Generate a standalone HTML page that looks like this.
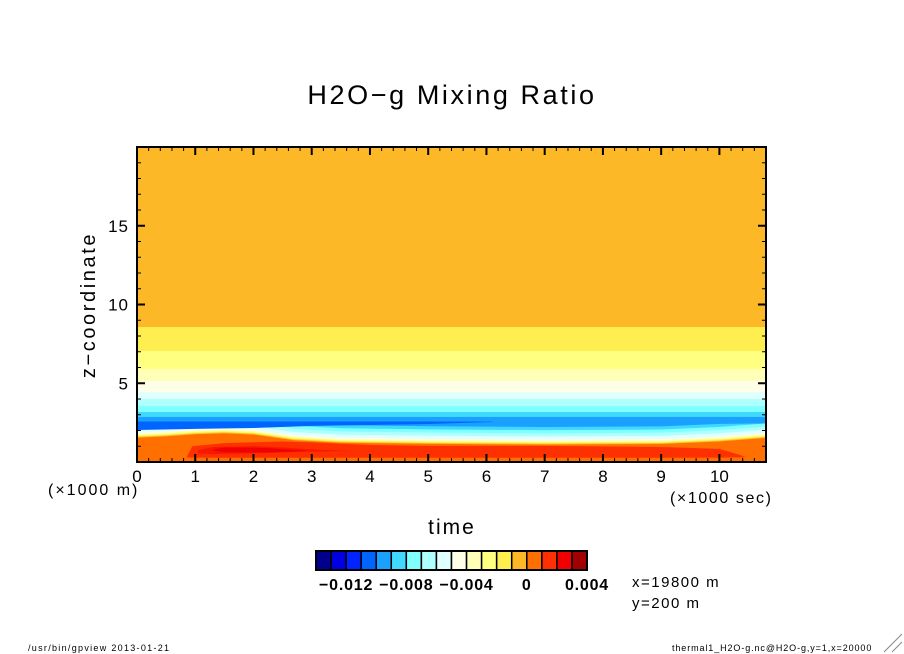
<!DOCTYPE html>
<html><head><meta charset="utf-8"><style>
body{margin:0;background:#fff;}
svg{display:block;font-family:"Liberation Sans","DejaVu Sans",sans-serif;}
</style></head><body>
<svg id="chart" width="904" height="654" viewBox="0 0 904 654">
<text x="452" y="104" font-size="27" letter-spacing="2.6" text-anchor="middle">H2O−g Mixing Ratio</text>
<g id="plot"></g>
<g id="axes"></g>
<text transform="translate(95,305) rotate(-90)" font-size="20" letter-spacing="2.6" text-anchor="middle">z−coordinate</text>
<text x="452" y="534" font-size="21" letter-spacing="2" text-anchor="middle">time</text>
<text x="48" y="495" font-size="16" letter-spacing="2">(×1000 m)</text>
<text x="670" y="503" font-size="16" letter-spacing="1.6">(×1000 sec)</text>
<g id="cbar"></g>
<text x="632" y="587" font-size="15" letter-spacing="1.5">x=19800 m</text>
<text x="632" y="608" font-size="15" letter-spacing="1.5">y=200 m</text>
<text x="28" y="651" font-size="9" letter-spacing="1.3">/usr/bin/gpview  2013-01-21</text>
<text x="672" y="651" font-size="9" letter-spacing="0.9">thermal1_H2O-g.nc@H2O-g,y=1,x=20000</text>
<line x1="884" y1="652" x2="902" y2="634" stroke="#888"/>
<line x1="892" y1="652" x2="902" y2="642" stroke="#888"/>
</svg>
<script>
// data
const colors=["#00008c","#0000e0","#0024ff","#0064ff","#1aa0ff","#40d8ff","#80ffff","#b0ffff","#e0ffff","#ffffe8","#ffffb8","#ffff80","#ffee50","#fdb827","#ff7000","#ff3000","#f00000","#a00000"];
const cbarTicks=["−0.012","−0.008","−0.004","0","0.004"];
const cbarTickIdx=[2,6,10,14,18];
const bandBottoms=[8.57,7.05,5.9,5.14,4.44,4.0,3.56,3.17,2.86,0];
const bandTops=[20,8.57,7.05,5.9,5.14,4.44,4.0,3.56,3.17,2.86];
const bandColors=[13,12,11,10,9,8,7,6,5,4];
const tGrid=[0,0.5,1,1.5,2,2.7,3.5,5,7,9,10,10.8];
const whiteCurve=[1.86,1.95,2.08,2.14,2.06,1.7,1.54,1.47,1.42,1.46,1.62,1.85];
const layerOffsets=[0.8,0.6,0.4,0.2,0,-0.07,-0.14,-0.2,-0.26,-0.32];
const layerColors=[5,6,7,8,9,10,11,12,13,14];
const layerCap=2.45;
const blueT=[0,1,2,3,4,5,6.1];
const blueTop=[2.57,2.57,2.57,2.57,2.57,2.57,2.56];
const blueBot=[2.03,2.1,2.16,2.29,2.35,2.41,2.54];
const redT=[0.85,0.95,1.5,2.5,3,4,5,7,9,10,10.35,10.45];
const redTop=[0.3,1.0,1.2,1.3,1.25,1.08,1.02,1.02,0.95,0.83,0.45,0.3];
const redBot=[0.3,0.28,0.27,0.27,0.27,0.27,0.27,0.27,0.27,0.28,0.29,0.3];
const red2T=[1.05,1.3,2,2.5,3,3.7];
const red2Top=[0.75,0.95,1.0,0.93,0.8,0.7];
const red2Bot=[0.55,0.5,0.55,0.6,0.65,0.7];
const darkT=[1.3,1.5,2.2,2.9];
const darkTop=[0.8,0.92,0.9,0.72];
const darkBot=[0.72,0.62,0.6,0.7];
const xTicks=[0,1,2,3,4,5,6,7,8,9,10];
const yTicks=[5,10,15];

const X0=137,X1=766,Y0=147,Y1=462,TMAX=10.8,ZMAX=20;
const sx=t=>X0+(t/TMAX)*(X1-X0);
const sy=z=>Y1-(z/ZMAX)*(Y1-Y0);
const NS="http://www.w3.org/2000/svg";
const plot=document.getElementById('plot'),axes=document.getElementById('axes'),cbar=document.getElementById('cbar');
function mk(tag,at,par){const e=document.createElementNS(NS,tag);for(const k in at)e.setAttribute(k,at[k]);par.appendChild(e);return e;}
bandTops.forEach((top,i)=>{
  const r=mk('rect',{x:X0,y:sy(top),width:X1-X0,height:sy(bandBottoms[i])-sy(top)+0.5,fill:colors[bandColors[i]]},plot);
  
  
});
function area(ts,tops,bots,col,name){
  let d='M'+ts.map((t,i)=>sx(t)+','+sy(tops[i])).join(' L');
  for(let i=ts.length-1;i>=0;i--)d+=' L'+sx(ts[i])+','+sy(bots[i]);
  const p=mk('path',{d:d+'Z',fill:col},plot);
  
  
}
layerOffsets.forEach((o,k)=>{
  area(tGrid,whiteCurve.map(v=>Math.min(v+o,layerCap)),tGrid.map(()=>0),colors[layerColors[k]],'contour-layer-'+k);
});
area(blueT,blueTop,blueBot,colors[3],'blue-strip');
area(redT,redTop,redBot,colors[15],'red-region');
area(red2T,red2Top,red2Bot,"#f81800",'red-core');
area(darkT,darkTop,darkBot,colors[16],'dark-red-core');
const f=mk('rect',{x:X0,y:Y0,width:X1-X0,height:Y1-Y0,fill:'none',stroke:'#000','stroke-width':2},axes);


for(let t=0;t<=TMAX+1e-6;t+=0.2){
  const maj=Math.abs(t-Math.round(t))<1e-6;const L=maj?8:4;
  mk('line',{x1:sx(t),x2:sx(t),y1:Y1,y2:Y1-L,stroke:'#000','stroke-width':maj?2:1},axes);
  mk('line',{x1:sx(t),x2:sx(t),y1:Y0,y2:Y0+L,stroke:'#000','stroke-width':maj?2:1},axes);
}
for(let z=1;z<ZMAX;z++){
  const maj=z%5===0;const L=maj?8:4;
  mk('line',{x1:X0,x2:X0+L,y1:sy(z),y2:sy(z),stroke:'#000','stroke-width':maj?2:1},axes);
  mk('line',{x1:X1,x2:X1-L,y1:sy(z),y2:sy(z),stroke:'#000','stroke-width':maj?2:1},axes);
}
xTicks.forEach(t=>{const e=mk('text',{x:sx(t),y:482,'font-size':17,'text-anchor':'middle'},axes);e.textContent=t;
  
  });
yTicks.forEach(z=>{const e=mk('text',{x:129,y:sy(z)+6,'font-size':17,'text-anchor':'end','letter-spacing':1},axes);e.textContent=z;
  
  });
const CX=316,CW=271/colors.length,CY=551,CH=19;
colors.forEach((c,i)=>{const r=mk('rect',{x:CX+i*CW,y:CY,width:CW,height:CH,fill:c,stroke:'#000','stroke-width':1.5},cbar);
  
  });
mk('rect',{x:CX,y:CY,width:271,height:CH,fill:'none',stroke:'#000','stroke-width':2},cbar);
cbarTicks.forEach((s,i)=>{const e=mk('text',{x:CX+cbarTickIdx[i]*CW,y:590,'font-size':16,'text-anchor':'middle','font-weight':'bold','letter-spacing':0.8},cbar);e.textContent=s;
  
  });
</script>
</body></html>
